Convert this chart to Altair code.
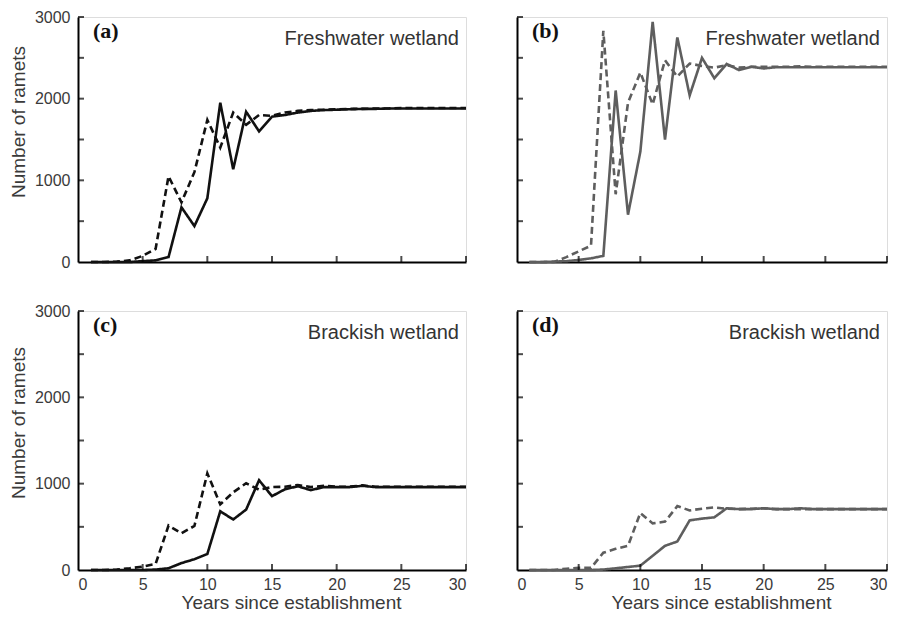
import altair as alt
import pandas as pd

years = list(range(1, 31))

# Panel (a) freshwater, black
a_solid = [0, 0, 0, 0, 10, 20, 60, 670, 440, 780, 1950, 1135, 1840, 1600, 1780,
           1800, 1830, 1850, 1860, 1865, 1870, 1875, 1875, 1880, 1880, 1880, 1880, 1880, 1880, 1880]
a_dashed = [0, 0, 5, 20, 75, 160, 1050, 730, 1100, 1740, 1400, 1830, 1680, 1800, 1790,
            1830, 1850, 1860, 1865, 1870, 1875, 1875, 1880, 1880, 1885, 1885, 1885, 1885, 1885, 1885]
# Panel (b) freshwater, grey
b_solid = [0, 0, 5, 10, 25, 45, 75, 2100, 580, 1350, 2940, 1500, 2750, 2040, 2500,
           2250, 2425, 2350, 2390, 2370, 2385, 2385, 2385, 2385, 2385, 2385, 2385, 2385, 2385, 2385]
b_dashed = [0, 0, 0, 60, 130, 200, 2830, 830, 1950, 2320, 1930, 2470, 2270, 2430, 2400,
            2380, 2410, 2380, 2390, 2390, 2390, 2390, 2395, 2390, 2390, 2390, 2390, 2390, 2390, 2390]
# Panel (c) brackish, black
c_solid = [0, 0, 0, 0, 0, 5, 20, 80, 125, 185, 680, 585, 700, 1040, 855,
           935, 970, 925, 960, 960, 960, 975, 960, 960, 960, 960, 960, 960, 960, 960]
c_dashed = [0, 0, 5, 20, 40, 70, 515, 425, 510, 1120, 760, 900, 1005, 930, 960,
            965, 985, 960, 975, 965, 965, 980, 965, 965, 965, 965, 965, 965, 965, 965]
# Panel (d) brackish, grey
d_solid = [0, 0, 0, 0, 0, 0, 5, 20, 35, 50, 165, 280, 330, 575, 595,
           610, 715, 705, 705, 715, 705, 705, 715, 705, 705, 705, 705, 705, 705, 705]
d_dashed = [0, 0, 0, 15, 25, 25, 200, 245, 280, 660, 540, 560, 740, 690, 710,
            725, 710, 705, 710, 715, 705, 705, 705, 705, 705, 705, 705, 705, 705, 705]

x_ticks = [5, 10, 15, 20, 25, 30]
x_labels = [0, 5, 10, 15, 20, 25, 30]
y_ticks = [500, 1000, 1500, 2000, 2500, 3000]
y_labels = [0, 1000, 2000, 3000]

FONT = "Liberation Sans"
TICK_LEN = 6


def panel(solid, dashed, color, label, text, w, h, bottom, left):
    df = pd.DataFrame({
        "year": years + years,
        "value": dashed + solid,
        "series": ["dashed"] * len(years) + ["solid"] * len(years),
    })
    xscale = alt.Scale(domain=[0, 30], nice=False, zero=True)
    yscale = alt.Scale(domain=[0, 3000], nice=False, zero=True)
    if bottom:
        xaxis = alt.Axis(values=x_labels, ticks=False, labels=True, grid=False,
                         domainColor="black", domainWidth=2, labelPadding=6,
                         labelFontSize=16, labelColor="#3a3a3a", labelFont=FONT,
                         titleFontSize=19, titleX=w / 2 + 19,
                         titleFont=FONT, titleFontWeight="normal", titleColor="#3a3a3a",
                         titlePadding=1)
        xtitle = "Years since establishment"
    else:
        xaxis = alt.Axis(values=x_labels, ticks=False, labels=False, grid=False,
                         domainColor="black", domainWidth=2, minExtent=0)
        xtitle = None
    if left:
        yaxis = alt.Axis(values=y_labels, ticks=False, labels=True, grid=False,
                         format="d",
                         domainColor="black", domainWidth=2, labelPadding=8,
                         labelFontSize=16, labelColor="#3a3a3a", labelFont=FONT,
                         titleFontSize=19, titleFont=FONT, titleFontWeight="normal",
                         titleColor="#3a3a3a", titlePadding=6, titleY=h / 2 - 18)
        ytitle = "Number of ramets"
    else:
        yaxis = alt.Axis(values=y_labels, ticks=False, labels=False, grid=False,
                         domainColor="black", domainWidth=2, minExtent=0)
        ytitle = None

    lines = alt.Chart(df).mark_line(strokeWidth=2.6, color=color).encode(
        x=alt.X("year:Q", scale=xscale, axis=xaxis, title=xtitle),
        y=alt.Y("value:Q", scale=yscale, axis=yaxis, title=ytitle),
        strokeDash=alt.StrokeDash("series:N",
                                  scale=alt.Scale(domain=["dashed", "solid"],
                                                  range=[[7, 4], [1, 0]]),
                                  legend=None),
        order=alt.Order("year:Q"),
    )
    xt = alt.Chart(pd.DataFrame({"t": x_ticks})).mark_tick(
        color="black", orient="vertical", size=TICK_LEN, thickness=2).encode(
        x=alt.X("t:Q", scale=xscale, axis=xaxis, title=xtitle),
        y=alt.value(h - TICK_LEN / 2))
    yt = alt.Chart(pd.DataFrame({"t": y_ticks})).mark_tick(
        color="black", orient="horizontal", size=TICK_LEN, thickness=2).encode(
        y=alt.Y("t:Q", scale=yscale, axis=yaxis, title=ytitle),
        x=alt.value(TICK_LEN / 2))
    lab = alt.Chart(pd.DataFrame({"t": [label]})).mark_text(
        font="Liberation Serif", fontWeight="bold", fontSize=22,
        align="left", baseline="alphabetic", color="#111").encode(
        text="t:N", x=alt.value(15), y=alt.value(21))
    ttl = alt.Chart(pd.DataFrame({"t": [text]})).mark_text(
        font=FONT, fontSize=20, align="right", baseline="alphabetic",
        color="#333").encode(
        text="t:N", x=alt.value(w - 7), y=alt.value(28))
    return alt.layer(lines, xt, yt, lab, ttl).properties(width=w, height=h)


LW, RW = 388, 370
TH, BH = 245, 259
BLACK = "#111111"
GREY = "#5e5e5e"

pa = panel(a_solid, a_dashed, BLACK, "(a)", "Freshwater wetland", LW, TH, False, True)
pb = panel(b_solid, b_dashed, GREY, "(b)", "Freshwater wetland", RW, TH, False, False)
pc = panel(c_solid, c_dashed, BLACK, "(c)", "Brackish wetland", LW, BH, True, True)
pd_ = panel(d_solid, d_dashed, GREY, "(d)", "Brackish wetland", RW, BH, True, False)

chart = alt.vconcat(
    alt.hconcat(pa, pb, spacing=44),
    alt.hconcat(pc, pd_, spacing=44),
    spacing=31,
).configure_view(stroke=None).configure(background="white", padding=0)

chart.save("out.html", embed_options={"renderer": "svg", "actions": False})
